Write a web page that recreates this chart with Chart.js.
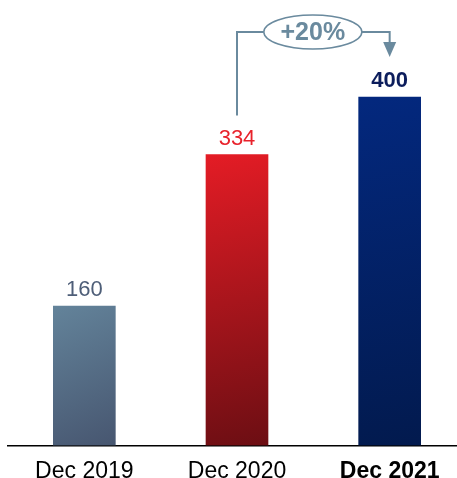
<!DOCTYPE html>
<html>
<head>
<meta charset="utf-8">
<script src="https://cdn.jsdelivr.net/npm/chart.js@4"></script>
<style>
  html, body { margin: 0; padding: 0; background: #fff; overflow: hidden; }
  #wrap { position: relative; width: 466px; height: 489px; }
</style>
</head>
<body>
<div id="wrap"><canvas id="c"></canvas></div>
<script>
// Year-end totals
const categories = ['Dec 2019', 'Dec 2020', 'Dec 2021'];
const values = [160, 334, 400];
const growthLabel = '+20%';

// Per-bar styling
const gradientStops = [
  ['#63839a', '#475670'],
  ['#e41c25', '#6c0e13'],
  ['#03287e', '#021a4e']
];
const valueColors = ['#4e5e78', '#e8222b', '#0c1d5c'];
const valueWeights = ['normal', 'normal', 'bold'];
const tickWeights = ['normal', 'normal', 'bold'];
const FONT = '"Liberation Sans", Arial, sans-serif';
const ANNO = '#6a8a9e';

function barFill(ctx) {
  const chart = ctx.chart;
  const i = ctx.dataIndex;
  const xs = chart.scales.x, ys = chart.scales.y;
  if (!chart.chartArea || !xs || !ys || i === undefined) return gradientStops[i || 0][0];
  const cx = xs.getPixelForValue(i);
  const half = 31;
  const top = ys.getPixelForValue(values[i]);
  const base = ys.getPixelForValue(0);
  const g = chart.ctx.createLinearGradient(cx - half, top, cx + half, base);
  g.addColorStop(0, gradientStops[i][0]);
  g.addColorStop(1, gradientStops[i][1]);
  return g;
}

// Value labels above each bar
const valueLabels = {
  id: 'valueLabels',
  afterDatasetsDraw(chart) {
    const { ctx } = chart;
    const meta = chart.getDatasetMeta(0);
    ctx.save();
    ctx.textAlign = 'center';
    ctx.textBaseline = 'alphabetic';
    meta.data.forEach((bar, i) => {
      ctx.font = valueWeights[i] + ' 22px ' + FONT;
      ctx.fillStyle = valueColors[i];
      ctx.fillText(String(values[i]), bar.x, bar.y - 10);
    });
    ctx.restore();
  }
};

// Growth bracket from the 2020 bar to the 2021 bar
const growthBracket = {
  id: 'growthBracket',
  afterDatasetsDraw(chart) {
    const { ctx } = chart;
    const meta = chart.getDatasetMeta(0);
    const a = meta.data[1], b = meta.data[2];
    const yLine = chart.chartArea.top + 22;
    const yStart = a.y - 39;
    const yTip = b.y - 40;
    const midX = (a.x + b.x) / 2 - 0.5;
    const rx = 49, ry = 17;
    ctx.save();
    ctx.strokeStyle = ANNO;
    ctx.lineWidth = 2;
    ctx.beginPath();
    ctx.moveTo(a.x, yStart);
    ctx.lineTo(a.x, yLine);
    ctx.lineTo(midX - rx, yLine);
    ctx.moveTo(midX + rx, yLine);
    ctx.lineTo(b.x, yLine);
    ctx.lineTo(b.x, yTip - 14);
    ctx.stroke();
    // arrow head
    ctx.fillStyle = ANNO;
    ctx.beginPath();
    ctx.moveTo(b.x - 6.5, yTip - 15);
    ctx.lineTo(b.x + 6.5, yTip - 15);
    ctx.lineTo(b.x, yTip);
    ctx.closePath();
    ctx.fill();
    // ellipse badge
    ctx.lineWidth = 1.5;
    ctx.fillStyle = '#fff';
    ctx.beginPath();
    ctx.ellipse(midX, yLine, rx, ry, 0, 0, Math.PI * 2);
    ctx.fill();
    ctx.stroke();
    ctx.fillStyle = ANNO;
    ctx.font = 'bold 25px ' + FONT;
    ctx.textAlign = 'center';
    ctx.textBaseline = 'middle';
    ctx.fillText(growthLabel, midX, yLine + 1);
    ctx.restore();
  }
};

new Chart(document.getElementById('c'), {
  type: 'bar',
  data: {
    labels: categories,
    datasets: [{
      data: values,
      backgroundColor: barFill,
      borderWidth: 0,
      barThickness: 62
    }]
  },
  options: {
    responsive: true,
    maintainAspectRatio: false,
    animation: false,
    layout: { padding: { top: 10, left: 8, right: 0, bottom: 0 } },
    plugins: { legend: { display: false }, tooltip: { enabled: false } },
    scales: {
      x: {
        grid: { display: false },
        border: { display: true, color: '#000', width: 1.5 },
        ticks: {
          color: '#000',
          padding: 4,
          font: (ctx) => ({ family: FONT, size: 23, weight: tickWeights[ctx.index] || 'normal' })
        }
      },
      y: {
        display: false,
        min: 0,
        max: 500
      }
    }
  },
  plugins: [valueLabels, growthBracket]
});
</script>
</body>
</html>
